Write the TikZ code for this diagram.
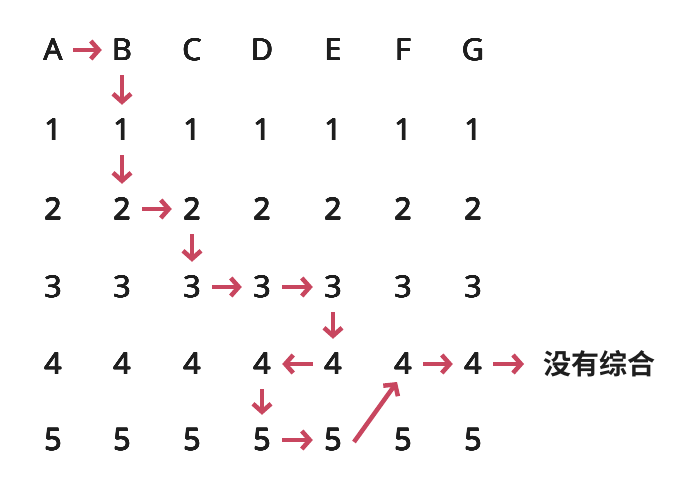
\documentclass[tikz,border=0pt]{standalone}
\usepackage{fontspec}
\setmainfont{Open Sans}
\newfontfamily\cjk{Noto Sans CJK SC}[BoldFont={* Bold}]
\usepackage[copies]{contour}
\contourlength{0.45pt}
\contournumber{12}
\usetikzlibrary{arrows.meta}
\definecolor{arrowred}{RGB}{200,70,95}
\definecolor{ink}{RGB}{30,30,30}
\newcommand{\heavy}[1]{\contour{ink}{#1}}
\tikzset{
  cell/.style={minimum width=40pt,minimum height=50pt,inner sep=0pt,font=\fontsize{30}{32}\selectfont,text=ink},
  link/.style={draw=arrowred,line width=4.5pt,-{Straight Barb[length=8pt,width=18pt,line width=4.5pt]}},
}
\begin{document}
\begin{tikzpicture}[x=1pt,y=-1pt]
\useasboundingbox (0,0) rectangle (680,481);
\foreach \c/\x [count=\i] in {A/53,B/122,C/192,D/262,E/333,F/403,G/473}{
  \node[cell] (h\i) at (\x,50) {\heavy{\c}};
  \foreach \r/\y in {1/130,2/209,3/287,4/364,5/440}{
    \node[cell] (n\i\r) at (\x,\y) {\heavy{\r}};
  }
}
\node[anchor=west,inner sep=0pt,font=\cjk\bfseries\fontsize{28}{30}\selectfont,minimum height=50pt,text=ink] (txt) at (543,364) {没有综合};
\draw[link] (h1) -- (h2);
\draw[link] (h2) -- (n21);
\draw[link] (n21) -- (n22);
\draw[link] (n22) -- (n32);
\draw[link] (n32) -- (n33);
\draw[link] (n33) -- (n43);
\draw[link] (n43) -- (n53);
\draw[link] (n53) -- (n54);
\draw[link] (n54) -- (n44);
\draw[link] (n44) -- (n45);
\draw[link] (n45) -- (n55);
\draw[link] ([shift={(21pt,-2pt)}]n55.center) -- ([shift={(-6pt,-18pt)}]n64.center);
\draw[link] (n64) -- (n74);
\draw[link] (n74) -- ([xshift=-19pt]txt.west);
\end{tikzpicture}
\end{document}
